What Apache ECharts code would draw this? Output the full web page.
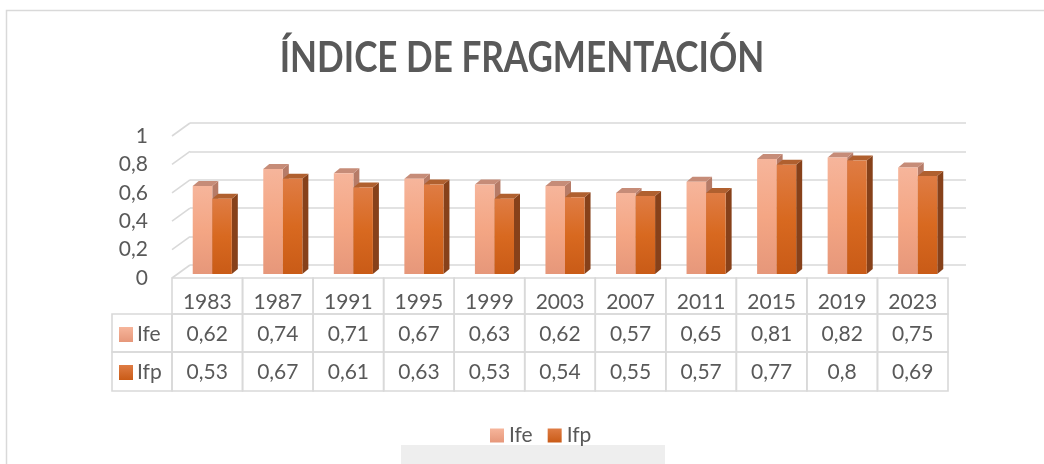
<!DOCTYPE html>
<html>
<head>
<meta charset="utf-8">
<script src="https://cdn.jsdelivr.net/npm/echarts@6/dist/echarts.min.js"></script>
<style>
html,body{margin:0;padding:0;background:#fff;}
#main{width:1044px;height:464px;}
</style>
</head>
<body>
<div id="main"></div>
<script>
// ---- data ----
const titleText = 'ÍNDICE DE FRAGMENTACIÓN';
const categories = ['1983','1987','1991','1995','1999','2003','2007','2011','2015','2019','2023'];
const seriesNames = ['Ife','Ifp'];
const ife = [0.62,0.74,0.71,0.67,0.63,0.62,0.57,0.65,0.81,0.82,0.75];
const ifp = [0.53,0.67,0.61,0.63,0.53,0.54,0.55,0.57,0.77,0.8,0.69];
const yTicks = [0,0.2,0.4,0.6,0.8,1];

// ---- style ----
const FONT = 'Lato, "Open Sans", sans-serif';
const TXT = '#595959';
const LINE = '#D9D9D9';
const G = echarts.graphic.LinearGradient;
const ifeFront = new G(0,0,0,1,[{offset:0,color:'#F6B59B'},{offset:0.5,color:'#F4A684'},{offset:1,color:'#E6977A'}]);
const ifpFront = new G(0,0,0,1,[{offset:0,color:'#DF7C44'},{offset:0.5,color:'#D86920'},{offset:1,color:'#C95B17'}]);
const styles = {
  Ife: {front: ifeFront, side: '#B67B67', top: '#C68C78', legend: new G(0,0,0,1,[{offset:0,color:'#F6B59B'},{offset:1,color:'#E6977A'}])},
  Ifp: {front: ifpFront, side: '#87411A', top: '#B0602F', legend: new G(0,0,0,1,[{offset:0,color:'#DF7C44'},{offset:1,color:'#C95B17'}])}
};
const DX = 5, DY = -4, DEPTH_X = 6, DEPTH_Y = 5;
const FS = 21;
const fmt = v => String(v).replace('.', ',');

function barRender(name){
  const st = styles[name];
  const isFirst = name === seriesNames[0];
  return function(params, api){
    const i = api.value(0), v = api.value(1);
    const base = api.coord([i, 0]);
    const top = api.coord([i, v]);
    const band = api.size([1, 0])[0];
    const bw = band * 0.277;
    const left = base[0] + DX + (isFirst ? -bw : 0);
    const right = left + bw;
    const yb = base[1] + DY, yt = top[1] + DY;
    return {type:'group', children:[
      {type:'polygon', shape:{points:[[right,yt],[right+DEPTH_X,yt-DEPTH_Y],[right+DEPTH_X,yb-DEPTH_Y],[right,yb]]}, style:{fill:st.side}},
      {type:'polygon', shape:{points:[[left,yt],[left+DEPTH_X,yt-DEPTH_Y],[right+DEPTH_X,yt-DEPTH_Y],[right,yt]]}, style:{fill:st.top}},
      {type:'rect', shape:{x:left,y:yt,width:bw,height:yb-yt}, style:{fill:st.front}}
    ]};
  };
}

const ROWS = [36, 38, 39];
const TEXT_Y = [24, 56, 94];
function tableRender(params, api){
  const i = api.value(0);
  const base = api.coord([i, 0]);
  const band = api.size([1, 0])[0];
  const x0 = base[0] - band/2;
  const y0 = base[1];
  const children = [];
  let y = y0;
  for (let r = 0; r < 3; r++){
    children.push({type:'rect', shape:{x:x0,y:y,width:band,height:ROWS[r]}, style:{fill:'none',stroke:LINE,lineWidth:1.6}});
    y += ROWS[r];
  }
  const texts = [categories[i], fmt(ife[i]), fmt(ifp[i])];
  for (let r = 0; r < 3; r++){
    children.push({type:'text', style:{text:texts[r], x:base[0], y:y0+TEXT_Y[r], align:'center', verticalAlign:'middle', fill:TXT, font:FS + 'px ' + FONT}});
  }
  if (i === 0){
    const hx = x0 - 60;
    let hy = y0 + ROWS[0];
    for (let r = 1; r < 3; r++){
      children.push({type:'rect', shape:{x:hx,y:hy,width:60,height:ROWS[r]}, style:{fill:'none',stroke:LINE,lineWidth:1.6}});
      const nm = seriesNames[r-1];
      const cy = y0 + TEXT_Y[r];
      children.push({type:'rect', shape:{x:hx+7,y:cy-7,width:14,height:15}, style:{fill:styles[nm].legend}});
      children.push({type:'text', style:{text:nm, x:hx+25, y:cy, align:'left', verticalAlign:'middle', fill:TXT, font:FS + 'px ' + FONT}});
      hy += ROWS[r];
    }
  }
  return {type:'group', children};
}

function diagRender(params, api){
  const v = api.value(1);
  const p = api.coord([0, v]);
  const band = api.size([1, 0])[0];
  const x = p[0] - band/2;
  return {type:'line', shape:{x1:x, y1:p[1], x2:x+18, y2:p[1]-13}, style:{stroke:LINE, lineWidth:1.6}};
}

const chart = echarts.init(document.getElementById('main'), null, {renderer:'canvas'});
chart.setOption({
  animation: false,
  backgroundColor: '#fff',
  textStyle: {fontFamily: FONT},
  graphic: [
    {type:'rect', shape:{x:6.5,y:10.5,width:1100,height:500}, style:{fill:'none',stroke:LINE,lineWidth:1.5}, silent:true, z:-10},
    {type:'rect', shape:{x:401,y:445,width:264,height:30}, style:{fill:'#EEEEEE'}, silent:true, z:-10},
    {type:'text', x:522, y:58, scaleX:0.835, style:{text:titleText, align:'center', verticalAlign:'middle', fill:TXT, font:'bold 42px ' + FONT}, silent:true}
  ],
  legend: {
    data: seriesNames, top: 420, left: 485, icon: 'rect', itemWidth: 14, itemHeight: 14, itemGap: 15,
    textStyle: {color: TXT, fontSize: FS, fontFamily: FONT}, selectedMode: false
  },
  grid: [
    {left:172, right:96, top:136, height:142},
    {left:190, right:78, top:123, height:142}
  ],
  xAxis: [
    {type:'category', data:categories, gridIndex:0, show:false},
    {type:'category', data:categories, gridIndex:1, show:false}
  ],
  yAxis: [
    {type:'value', gridIndex:0, min:0, max:1, interval:0.2, axisLine:{show:false}, axisTick:{show:false}, splitLine:{show:false},
     axisLabel:{margin:24, color:TXT, fontSize:FS, fontFamily:FONT, formatter: v => fmt(v)}},
    {type:'value', gridIndex:1, min:0, max:1, interval:0.2, axisLine:{show:false}, axisTick:{show:false}, axisLabel:{show:false},
     splitLine:{show:true, lineStyle:{color:LINE, width:1.6}}}
  ],
  series: [
    {type:'custom', name:'diag', xAxisIndex:0, yAxisIndex:0, silent:true, z:1, data: yTicks.map(v => [0, v]), renderItem: diagRender},
    {type:'custom', name:'table', xAxisIndex:0, yAxisIndex:0, silent:true, z:1, data: categories.map((c, i) => [i, 0]), renderItem: tableRender},
    {type:'custom', name:seriesNames[0], xAxisIndex:0, yAxisIndex:0, z:3, itemStyle:{color:styles.Ife.legend}, data: ife.map((v, i) => [i, v]), encode:{x:0, y:1}, renderItem: barRender('Ife')},
    {type:'custom', name:seriesNames[1], xAxisIndex:0, yAxisIndex:0, z:3, itemStyle:{color:styles.Ifp.legend}, data: ifp.map((v, i) => [i, v]), encode:{x:0, y:1}, renderItem: barRender('Ifp')}
  ]
});
</script>
</body>
</html>
